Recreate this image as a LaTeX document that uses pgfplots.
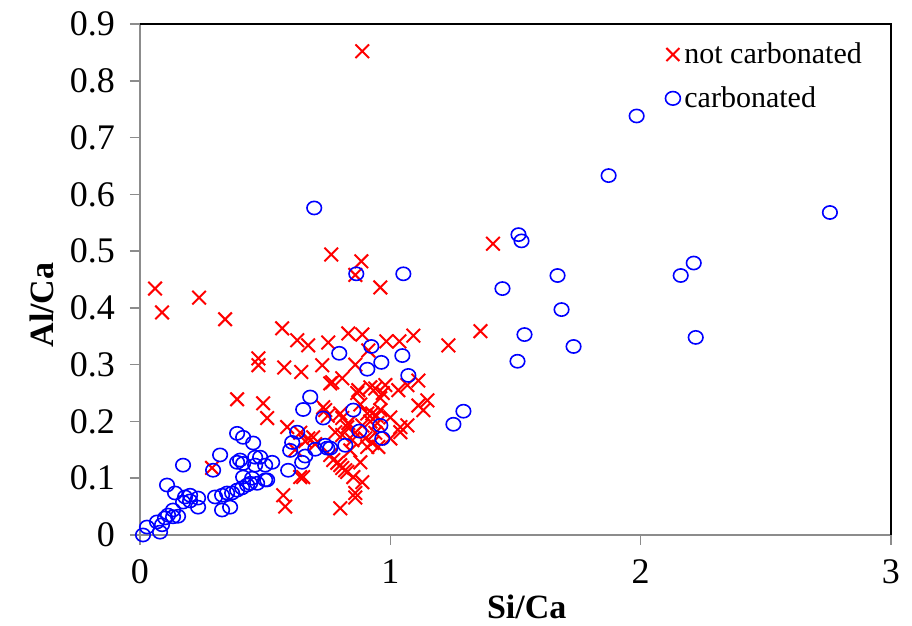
\documentclass[border=0pt]{standalone}
\usepackage{pgfplots}
\pgfplotsset{compat=1.18}
\usepackage{fontspec}
\setmainfont{Liberation Serif}
\begin{document}
\begin{tikzpicture}
\begin{axis}[
  scale only axis,
  width=375.5pt, height=255.5pt,
  xmin=0, xmax=3, ymin=0, ymax=0.9,
  xtick={0,1,2,3},
  ytick={0,0.1,0.2,0.3,0.4,0.5,0.6,0.7,0.8,0.9},
  /pgf/number format/assume math mode=true,
  tick label style={font=\fontsize{18}{20}\selectfont},
  yticklabel style={xshift=-4pt},
  xticklabel style={yshift=-4pt},
  tick align=outside, tick pos=left,
  major tick length=5pt,
  axis line style={draw=gray!90, line width=1.2pt},
  tick style={draw=gray!90, line width=0.8pt},
  clip=false,
  xlabel={\textbf{Si/Ca}},
  ylabel={\textbf{Al/Ca}},
  xlabel style={font=\fontsize{17}{19}\selectfont, at={(axis description cs:0.515,-0.141)}, anchor=center},
  ylabel style={font=\fontsize{17}{19}\selectfont, at={(axis description cs:-0.1305,0.45)}, anchor=center},
  legend style={at={(axis description cs:0.975,0.98)}, anchor=north east, draw=none, fill=none,
    font=\fontsize{15}{17}\selectfont, row sep=6pt},
  legend cell align=left,
]
\draw[black, line width=1.3pt] (rel axis cs:0,1) -- (rel axis cs:1,1) -- (rel axis cs:1,0);
\addplot[only marks, mark=x, mark size=4.8pt, color=red, mark options={line width=1pt},
  legend image code/.code={\draw[red, line width=1pt, mark=x, mark size=4.6pt] plot coordinates {(0.2cm,0cm)};}] coordinates {
(0.06,0.434) (0.088,0.392) (0.236,0.418) (0.34,0.38) (0.888,0.852) (1.41,0.513) (1.36,0.359)
(1.232,0.334) (0.764,0.494) (0.884,0.482) (0.86,0.458) (0.96,0.436) (0.568,0.364) (0.628,0.343)
(0.672,0.334) (0.473,0.311) (0.473,0.299) (0.576,0.295) (0.644,0.287) (0.728,0.299) (0.752,0.339)
(0.832,0.355) (0.888,0.353) (0.984,0.341) (1.036,0.341) (1.092,0.351) (0.912,0.325) (0.768,0.269)
(0.808,0.276) (0.872,0.255) (0.94,0.258) (0.98,0.264) (1.032,0.255) (1.112,0.272) (0.96,0.241)
(1.068,0.264) (1.112,0.228) (1.148,0.237) (1.132,0.22) (0.74,0.22) (0.808,0.206) (0.928,0.214)
(1.04,0.19) (1.068,0.193) (1.04,0.181) (0.948,0.197) (0.888,0.193) (0.828,0.19) (0.78,0.181)
(0.692,0.172) (0.848,0.167) (0.908,0.155) (0.952,0.155) (0.84,0.149) (0.76,0.141) (0.788,0.127)
(0.808,0.118) (0.828,0.111) (0.88,0.128) (0.888,0.093) (0.852,0.102) (0.64,0.102) (0.86,0.074)
(0.76,0.267) (0.868,0.25) (0.732,0.225) (0.508,0.206) (0.588,0.19) (0.8,0.214) (0.832,0.197)
(0.908,0.214) (0.808,0.176) (0.772,0.132) (0.8,0.123) (0.82,0.114) (0.652,0.102) (0.572,0.07)
(0.58,0.05) (0.8,0.047) (0.86,0.066) (0.492,0.232) (0.928,0.162) (1.0,0.207) (0.388,0.239)
(0.288,0.118) (0.64,0.18) (0.672,0.17) (0.92,0.2) (0.96,0.22) (1.0,0.17) (0.7,0.16) (0.9,0.17)
(0.94,0.18) (0.97,0.25) (0.92,0.26) (0.86,0.3) (0.66,0.165) (0.62,0.15) (0.75,0.21) (0.88,0.23)
(0.945,0.21) (0.86,0.18)
};
\addlegendentry{not carbonated}
\addplot[only marks, mark=o, mark size=3.3pt, color=blue, mark options={line width=0.8pt, xscale=1.1},
  legend image code/.code={\draw[blue, line width=0.8pt, mark=o, mark size=3.4pt] plot coordinates {(0.2cm,0cm)};}] coordinates {
(1.872,0.633) (1.984,0.738) (2.756,0.568) (2.16,0.457) (2.212,0.479) (2.22,0.348) (1.668,0.457)
(1.684,0.397) (1.732,0.332) (1.448,0.434) (1.512,0.529) (1.524,0.518) (1.536,0.353) (1.508,0.306)
(1.292,0.218) (1.252,0.195) (0.696,0.576) (0.864,0.46) (1.052,0.46) (0.924,0.332) (0.796,0.32)
(0.908,0.292) (0.964,0.304) (1.048,0.316) (1.072,0.281) (0.852,0.22) (0.876,0.183) (0.96,0.193)
(0.968,0.17) (0.82,0.158) (0.76,0.153) (0.68,0.243) (0.652,0.221) (0.732,0.206) (0.628,0.181)
(0.608,0.163) (0.6,0.149) (0.66,0.139) (0.648,0.128) (0.7,0.151) (0.748,0.153) (0.74,0.158)
(0.592,0.114) (0.508,0.097) (0.528,0.128) (0.5,0.123) (0.48,0.137) (0.012,0.0) (0.028,0.014)
(0.068,0.023) (0.08,0.005) (0.088,0.018) (0.1,0.03) (0.112,0.035) (0.132,0.044) (0.132,0.032)
(0.152,0.033) (0.108,0.088) (0.14,0.074) (0.172,0.123) (0.172,0.058) (0.18,0.067) (0.2,0.07)
(0.232,0.065) (0.232,0.049) (0.32,0.141) (0.292,0.114) (0.3,0.067) (0.328,0.07) (0.348,0.074)
(0.368,0.074) (0.388,0.079) (0.408,0.083) (0.428,0.088) (0.328,0.044) (0.36,0.049) (0.388,0.179)
(0.412,0.172) (0.452,0.162) (0.4,0.132) (0.412,0.126) (0.388,0.128) (0.46,0.137) (0.46,0.123)
(0.412,0.102) (0.448,0.1) (0.44,0.091) (0.468,0.091) (0.5,0.097) (0.2,0.06)
};
\addlegendentry{carbonated}
\end{axis}
\path ([xshift=-70pt,yshift=-45pt]current axis.south west) rectangle ([xshift=10.5pt,yshift=12pt]current axis.north east);
\end{tikzpicture}
\end{document}
